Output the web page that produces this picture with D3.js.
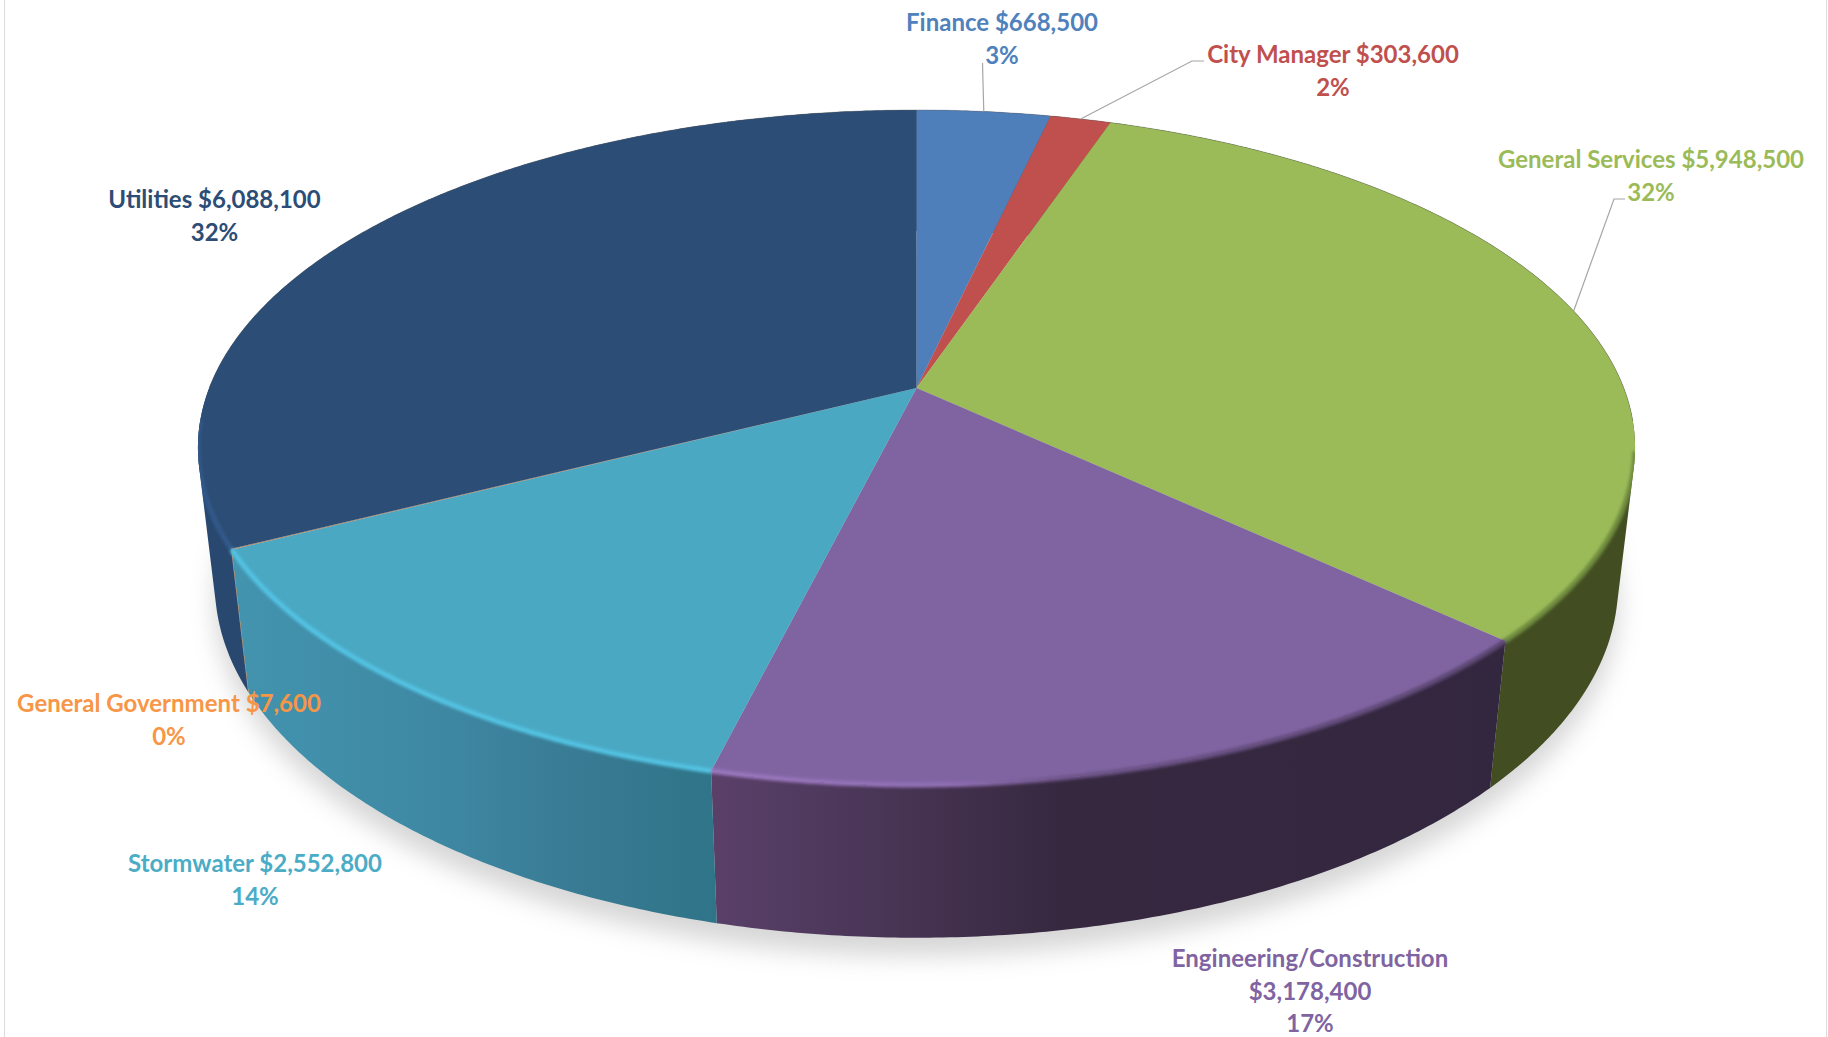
<!DOCTYPE html>
<html>
<head>
<meta charset="utf-8">
<script src="https://cdn.jsdelivr.net/npm/d3@7"></script>
<style>
  html, body { margin: 0; padding: 0; background: #fff; }
  svg { display: block; }
  text { font-family: Lato, "Open Sans", sans-serif; font-weight: 700; text-anchor: middle; }
</style>
</head>
<body>
<div id="chart"></div>
<script>
//budget by department
var categories = ["Finance", "City Manager", "General Services", "Engineering/Construction", "Stormwater", "General Government", "Utilities"];
var budgets = [668500, 303600, 5948500, 3178400, 2552800, 7600, 6088100];
var pctLabels = ["3%", "2%", "32%", "17%", "14%", "0%", "32%"];

var sliceColors = ["#4f7fba", "#c0504d", "#9bbb59", "#8064a2", "#4aa8c3", "#b08a6a", "#2c4d75"];
var textColors = ["#4f81bd", "#c0504d", "#9bbb59", "#8064a2", "#4bacc6", "#f79646", "#2c4d75"];
var rimColors = ["#4f7fba", "#c0504d", "#6e8a3c", "url(#rimEng)", "#52c2e2", "#f79646", "#32598a"];
var wallColors = ["#3b5f8c", "#903c3a", "#424e22", "url(#wallEng)", "url(#wallStorm)", "#b9702f", "#28486f"];

//label centres and first baselines
var labelSpots = [
    {x: 1002, y: 31}, {x: 1333, y: 63}, {x: 1651, y: 168}, {x: 1310, y: 967},
    {x: 255, y: 872}, {x: 169, y: 712}, {x: 214.5, y: 208}
];
//leader lines run from the rim of the slice through these points
var leaderBends = [
    {slice: 0, points: [[982.5, 63]]},
    {slice: 1, points: [[1192, 61], [1204, 61]]},
    {slice: 2, points: [[1614, 199], [1625, 199]]}
];

var width = 1828, height = 1037;
var svg = d3.select("#chart").append("svg").attr("width", width).attr("height", height);
var defs = svg.append("defs");

function addGradient(id, x1, x2, stops) {
    var g = defs.append("linearGradient").attr("id", id)
        .attr("gradientUnits", "userSpaceOnUse")
        .attr("x1", x1).attr("x2", x2).attr("y1", 0).attr("y2", 0);
    stops.forEach(function(s) {
        g.append("stop").attr("offset", s[0]).attr("stop-color", s[1]);
    });
}
addGradient("wallStorm", 233, 716, [[0, "#4394af"], [0.45, "#3e87a2"], [0.7, "#397b94"], [1, "#2f7488"]]);
addGradient("wallEng", 713, 1497, [[0, "#5a4069"], [0.2, "#4a3657"], [0.45, "#36283f"], [1, "#33273f"]]);
addGradient("rimEng", 713, 1497, [[0, "#9a76bd"], [0.3, "#8e6eb2"], [0.45, "#6d5388"], [1, "#5a4570"]]);

defs.append("filter").attr("id", "shadowBlur")
    .attr("x", "-10%").attr("y", "-10%").attr("width", "120%").attr("height", "120%")
    .append("feGaussianBlur").attr("stdDeviation", 12);
defs.append("filter").attr("id", "rimBlur")
    .attr("x", "-5%").attr("y", "-5%").attr("width", "110%").attr("height", "110%")
    .append("feGaussianBlur").attr("stdDeviation", 1.8);

//perspective disc: far edge is squeezed, near edge stretched, so the apex sits off the ellipse centre
var apexX = 916.5, apexY = 388;
var radiusX = 707.3, radiusY = 327, tilt = 0.1763;
var wallDrop = 138.7, wallShrink = 0.0234;

function project(angle, lower) {
    var u = Math.sin(angle), v = -Math.cos(angle);
    var w = 1 - tilt * v + (lower ? wallShrink : 0);
    return [
        apexX + radiusX * u / w,
        apexY + (radiusY * v + (lower ? wallDrop : 0)) / w
    ];
}

function rimPoints(a0, a1, lower) {
    var n = Math.max(2, Math.ceil((a1 - a0) * 120));
    return d3.range(n + 1).map(function(i) {
        return project(a0 + (a1 - a0) * i / n, lower);
    });
}

var line = d3.line();
var slices = d3.pie().sort(null).value(function(d) { return d; })(budgets);

//wall made of thin strips, wound the same way, so the straight silhouette of the cylinder gets filled
function wallPath(d) {
    var up = rimPoints(d.startAngle, d.endAngle, false);
    var low = rimPoints(d.startAngle, d.endAngle, true);
    return d3.range(up.length - 1).map(function(i) {
        var quad = [up[i], up[i + 1], low[i + 1], low[i]];
        if (d3.polygonArea(quad) < 0) quad.reverse();
        return line(quad) + "Z";
    }).join("");
}

//page edges
svg.append("line").attr("x1", 4.5).attr("x2", 4.5).attr("y1", 0).attr("y2", height).attr("stroke", "#dcdcdc");
svg.append("line").attr("x1", 1826.5).attr("x2", 1826.5).attr("y1", 0).attr("y2", height).attr("stroke", "#dcdcdc");

//shadow under the disc
svg.append("path")
    .attr("d", line(rimPoints(0, 2 * Math.PI, true)) + "Z")
    .attr("transform", "translate(0,18)")
    .attr("fill", "#999")
    .attr("opacity", 0.4)
    .attr("filter", "url(#shadowBlur)");

//side walls
svg.append("g").selectAll("path").data(slices).enter().append("path")
    .attr("d", wallPath)
    .attr("fill", function(d, i) { return wallColors[i]; });

//top faces
svg.append("g").selectAll("path").data(slices).enter().append("path")
    .attr("d", function(d) {
        return line([[apexX, apexY]].concat(rimPoints(d.startAngle, d.endAngle, false))) + "Z";
    })
    .attr("fill", function(d, i) { return sliceColors[i]; });

//thin edge along the far side
svg.append("path")
    .attr("d", line(rimPoints(-Math.PI / 2, Math.PI / 2 + 0.1, false)))
    .attr("fill", "none")
    .attr("stroke", "#5a5a5a")
    .attr("stroke-opacity", 0.35)
    .attr("stroke-width", 1);

//soft bevel along the near side, kept inside the outline of the disc
var bevelClip = defs.append("clipPath").attr("id", "discClip");
bevelClip.append("path").attr("d", line(rimPoints(0, 2 * Math.PI, false)) + "Z");
bevelClip.selectAll("path.wall").data(slices).enter().append("path")
    .attr("class", "wall")
    .attr("d", wallPath);

var bevelFrom = Math.PI * 0.56, bevelTo = Math.PI * 1.47;
svg.append("g").attr("clip-path", "url(#discClip)")
    .append("g").attr("filter", "url(#rimBlur)").selectAll("path")
    .data(slices.filter(function(d) {
        return d.endAngle > bevelFrom && d.endAngle - d.startAngle > 0.01;
    }))
    .enter().append("path")
    .attr("d", function(d) {
        return line(rimPoints(Math.max(d.startAngle, bevelFrom), Math.min(d.endAngle, bevelTo), false));
    })
    .attr("fill", "none")
    .attr("stroke", function(d) { return rimColors[d.index]; })
    .attr("stroke-width", 5);

//leader lines
svg.append("g").selectAll("path").data(leaderBends).enter().append("path")
    .attr("d", function(b) {
        var d = slices[b.slice];
        return line([project((d.startAngle + d.endAngle) / 2, false)].concat(b.points));
    })
    .attr("fill", "none")
    .attr("stroke", "#a6a6a6")
    .attr("stroke-width", 1.2);

//labels
var money = d3.format("$,");
function labelLines(i) {
    var amount = money(budgets[i]);
    //long name wraps on its own line
    if (categories[i].indexOf("/") > 0) {
        return [categories[i], amount, pctLabels[i]];
    }
    return [categories[i] + " " + amount, pctLabels[i]];
}

var lineGap = 32.5;
var labels = svg.append("g").selectAll("text").data(categories).enter().append("text")
    .attr("fill", function(d, i) { return textColors[i]; })
    .attr("font-size", 24);

labels.selectAll("tspan").data(function(d, i) {
    return labelLines(i).map(function(t, k) { return {t: t, k: k, i: i}; });
}).enter().append("tspan")
    .attr("x", function(d) { return labelSpots[d.i].x; })
    .attr("y", function(d) { return labelSpots[d.i].y + d.k * lineGap; })
    .text(function(d) { return d.t; });
</script>
</body>
</html>
